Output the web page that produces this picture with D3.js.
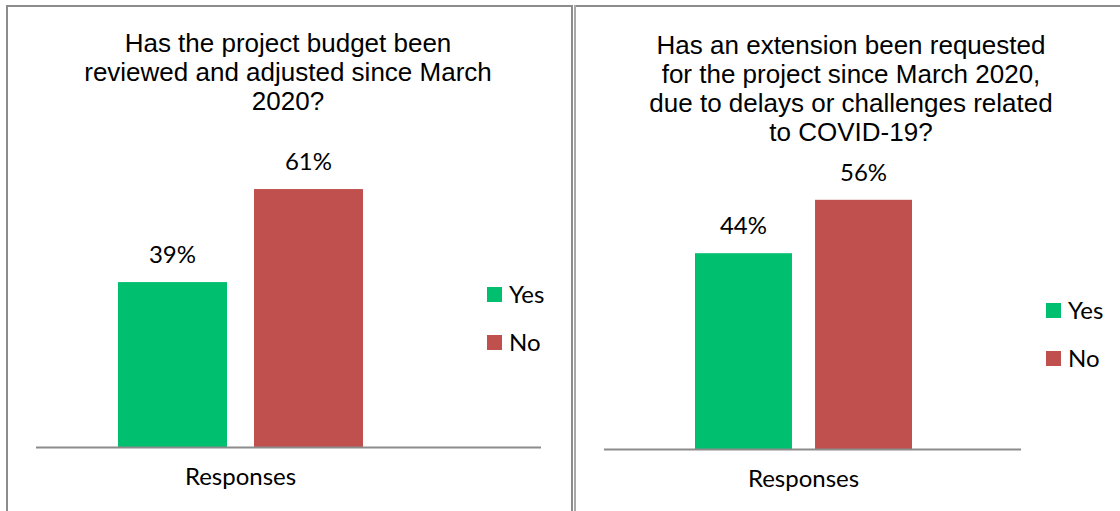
<!DOCTYPE html>
<html>
<head>
<meta charset="utf-8">
<script src="https://cdn.jsdelivr.net/npm/d3@7"></script>
<style>
  html, body { margin: 0; padding: 0; background: #ffffff; }
  svg { display: block; }
</style>
</head>
<body>
<svg id="chart" width="1120" height="511"></svg>
<script>
// Survey results: two single-category clustered bar charts side by side
const categories = ["Responses"];
const series = ["Yes", "No"];
const seriesColors = ["#00BF6F", "#C0504D"];

const budgetTitle = ["Has the project budget been", "reviewed and adjusted since March", "2020?"];
const budgetValues = [39, 61];

const extensionTitle = ["Has an extension been requested", "for the project since March 2020,", "due to delays or challenges related", "to COVID-19?"];
const extensionValues = [44, 56];

const svg = d3.select("#chart");
const frameColor = "#8c8c8c";
const titleFont = "'Liberation Sans', Arial, sans-serif";
const bodyFont = "Lato, 'Open Sans', sans-serif";

// panel frames
svg.append("path")
  .attr("d", "M7,520 L7,6 L572,6 L572,520")
  .attr("fill", "none").attr("stroke", frameColor).attr("stroke-width", 2);
svg.append("path")
  .attr("d", "M575,520 L575,6 L1130,6")
  .attr("fill", "none").attr("stroke", "#a9a9a9").attr("stroke-width", 2);
svg.append("line")
  .attr("x1", 576).attr("x2", 1130).attr("y1", 6).attr("y2", 6)
  .attr("stroke", frameColor).attr("stroke-width", 2);

function drawPanel(cfg) {
  const g = svg.append("g");

  // title
  const title = g.append("text")
    .attr("x", cfg.titleX).attr("y", cfg.titleY)
    .attr("text-anchor", "middle")
    .attr("font-family", titleFont).attr("font-size", 26).attr("fill", "#000");
  cfg.title.forEach((line, i) => {
    title.append("tspan").attr("x", cfg.titleX).attr("dy", i === 0 ? 0 : 29).text(line);
  });

  const x0 = d3.scaleBand().domain(categories).range(cfg.plotX);
  const x1 = d3.scaleBand().domain(series).range(cfg.group).paddingInner(cfg.gap);
  const y = d3.scaleLinear().domain([0, cfg.yMax]).range([cfg.baseY, cfg.yTop]);

  const data = series.map((s, i) => ({ key: s, value: cfg.values[i], color: seriesColors[i] }));

  const bars = g.selectAll("g.cat").data(categories).join("g")
    .attr("class", "cat")
    .attr("transform", d => `translate(${x0(d)},0)`);

  bars.selectAll("rect").data(data).join("rect")
    .attr("x", d => x1(d.key))
    .attr("width", x1.bandwidth())
    .attr("y", d => y(d.value))
    .attr("height", d => y(0) - y(d.value))
    .attr("fill", d => d.color);

  bars.selectAll("text.val").data(data).join("text")
    .attr("class", "val")
    .attr("x", d => x1(d.key) + x1.bandwidth() / 2)
    .attr("y", d => y(d.value) - 19)
    .attr("text-anchor", "middle")
    .attr("font-family", bodyFont).attr("font-size", 24).attr("fill", "#000")
    .text(d => d.value + "%");

  // baseline
  g.append("line")
    .attr("x1", cfg.plotX[0]).attr("x2", cfg.axisEnd)
    .attr("y1", cfg.baseY + 0.5).attr("y2", cfg.baseY + 0.5)
    .attr("stroke", frameColor).attr("stroke-width", 2);

  // category axis label
  const axis = g.append("g")
    .attr("transform", `translate(0,${cfg.baseY})`)
    .call(d3.axisBottom(x0).tickSize(0).tickPadding(21));
  axis.select(".domain").remove();
  axis.selectAll("text")
    .attr("font-family", bodyFont).attr("font-size", 24).attr("fill", "#000");

  // legend
  const legend = g.selectAll("g.legend").data(data).join("g")
    .attr("class", "legend")
    .attr("transform", (d, i) => `translate(${cfg.legendX},${cfg.legendY + i * 48})`);
  legend.append("rect").attr("width", 15).attr("height", 15).attr("fill", d => d.color);
  legend.append("text")
    .attr("x", 22).attr("y", 16)
    .attr("font-family", bodyFont).attr("font-size", 24).attr("fill", "#000")
    .text(d => d.key);
}

drawPanel({
  title: budgetTitle, values: budgetValues,
  titleX: 288, titleY: 52,
  plotX: [36, 445], group: [82, 327], gap: 0.1985,
  axisEnd: 541, baseY: 447, yMax: 70, yTop: 151,
  legendX: 487, legendY: 287
});

drawPanel({
  title: extensionTitle, values: extensionValues,
  titleX: 851, titleY: 54,
  plotX: [604, 1003], group: [91, 308], gap: 0.192,
  axisEnd: 1021, baseY: 449, yMax: 60, yTop: 182,
  legendX: 1046, legendY: 303
});
</script>
</body>
</html>
